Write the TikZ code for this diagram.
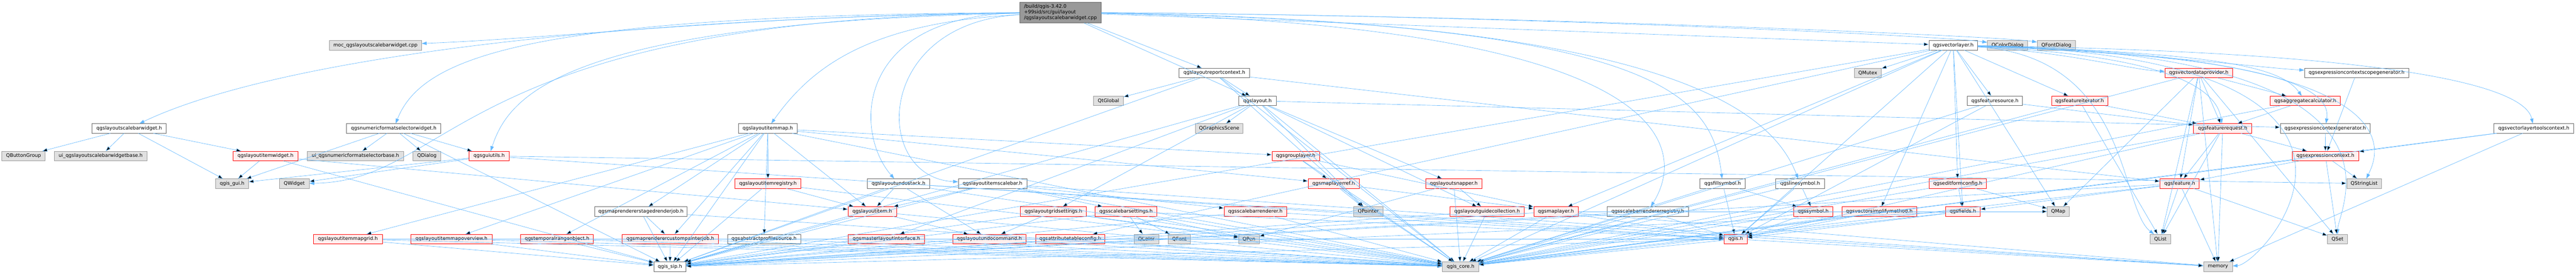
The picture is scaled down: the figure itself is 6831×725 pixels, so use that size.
\documentclass[tikz,border=0pt]{standalone}
\usepackage{fontspec}
\setmainfont{DejaVu Sans}
\usetikzlibrary{arrows.meta}

\definecolor{edgeblue}{HTML}{63B8FF}
\definecolor{grayfill}{HTML}{E0E0E0}
\definecolor{grayline}{HTML}{999999}
\definecolor{darkline}{HTML}{666666}
\definecolor{redfill}{HTML}{FFF0F0}

\tikzset{
	hdr/.style={draw, minimum height=25pt, inner sep=0pt, line width=1pt, font=\fontsize{12.9}{15}\selectfont},
	gbox/.style={hdr, draw=grayline, fill=grayfill},
	wbox/.style={hdr, draw=darkline, fill=white},
	rbox/.style={hdr, draw=red, fill=redfill},
	mainbox/.style={hdr, draw=darkline, fill=grayline, align=left},
	dep/.style={draw=edgeblue, line width=0.9pt, -{Triangle[length=13pt,width=9pt]}}
}

\begin{document}
\begin{tikzpicture}[x=1pt, y=-1pt]

	\useasboundingbox (0,0) rectangle (6831,725);

	% start file
	\node[mainbox, minimum width=216pt, minimum height=55pt] at (2812,33) (Main) {/build/qgis-3.42.0\\+99sid/src/gui/layout\\/qgslayoutscalebarwidget.cpp};

	% row 1
	\node[gbox, minimum width=245pt] at (995.5,120) (Moc) {moc\_qgslayoutscalebarwidget.cpp};
	\node[wbox, minimum width=129pt] at (5179.5,120) (VLayer) {qgsvectorlayer.h};
	\node[gbox, minimum width=107pt] at (5323.5,120) (QColorDialog) {QColorDialog};
	\node[gbox, minimum width=102pt] at (5453,120) (QFontDialog) {QFontDialog};

	% row 2
	\node[wbox, minimum width=186pt] at (3220,193) (ReportCtx) {qgslayoutreportcontext.h};
	\node[gbox, minimum width=72pt] at (4953,193) (QMutex) {QMutex};
	\node[rbox, minimum width=179pt] at (5830.5,193) (VDataProv) {qgsvectordataprovider.h};
	\node[wbox, minimum width=276pt] at (6249,193) (ExprScopeGen) {qgsexpressioncontextscopegenerator.h};

	% row 3
	\node[gbox, minimum width=79pt] at (2939.5,267) (QtGlobal) {QtGlobal};
	\node[wbox, minimum width=99pt] at (3334.5,267) (Layout) {qgslayout.h};
	\node[wbox, minimum width=146pt] at (5290,267) (FeatSource) {qgsfeaturesource.h};
	\node[rbox, minimum width=149pt] at (5514.5,267) (FeatIter) {qgsfeatureiterator.h};
	\node[rbox, minimum width=186pt] at (6113,267) (AggCalc) {qgsaggregatecalculator.h};

	% row 4
	\node[wbox, minimum width=197pt] at (342.5,340) (ScaleWidget) {qgslayoutscalebarwidget.h};
	\node[wbox, minimum width=250pt] at (1044,340) (NumFmt) {qgsnumericformatselectorwidget.h};
	\node[wbox, minimum width=156pt] at (2036,340) (ItemMap) {qgslayoutitemmap.h};
	\node[gbox, minimum width=126pt] at (3233,340) (QGraphicsScene) {QGraphicsScene};
	\node[rbox, minimum width=154pt] at (5894,340) (FeatReq) {qgsfeaturerequest.h};
	\node[wbox, minimum width=238pt] at (6166,340) (ExprGen) {qgsexpressioncontextgenerator.h};
	\node[wbox, minimum width=212pt] at (6719,340) (VLToolsCtx) {qgsvectorlayertoolscontext.h};

	% row 5
	\node[gbox, minimum width=115pt] at (62.5,413) (QButtonGroup) {QButtonGroup};
	\node[gbox, minimum width=246pt] at (267,413) (UiScale) {ui\_qgslayoutscalebarwidgetbase.h};
	\node[rbox, minimum width=172pt] at (704,413) (ItemWidget) {qgslayoutitemwidget.h};
	\node[gbox, minimum width=255pt] at (942.5,413) (UiNumFmt) {ui\_qgsnumericformatselectorbase.h};
	\node[gbox, minimum width=74pt] at (1132,413) (QDialog) {QDialog};
	\node[rbox, minimum width=106pt] at (1297,413) (GuiUtils) {qgsguiutils.h};
	\node[rbox, minimum width=126pt] at (3436,413) (GroupLayer) {qgsgrouplayer.h};
	\node[rbox, minimum width=177pt] at (6166.5,413) (ExprCtx) {qgsexpressioncontext.h};

	% row 6
	\node[gbox, minimum width=87pt] at (615.5,486) (QgisGui) {qgis\_gui.h};
	\node[gbox, minimum width=79pt] at (780.5,486) (QWidget) {QWidget};
	\node[rbox, minimum width=175pt] at (2036.5,486) (ItemRegistry) {qgslayoutitemregistry.h};
	\node[wbox, minimum width=165pt] at (2382.5,486) (UndoStack) {qgslayoutundostack.h};
	\node[wbox, minimum width=182pt] at (2632,486) (ItemScaleBar) {qgslayoutitemscalebar.h};
	\node[rbox, minimum width=135pt] at (3536.5,486) (MapLayerRef) {qgsmaplayerref.h};
	\node[rbox, minimum width=148pt] at (3855,486) (Snapper) {qgslayoutsnapper.h};
	\node[wbox, minimum width=120pt] at (4568,486) (FillSymbol) {qgsfillsymbol.h};
	\node[wbox, minimum width=129pt] at (4773.5,486) (LineSymbol) {qgslinesymbol.h};
	\node[rbox, minimum width=151pt] at (5191.5,486) (EditForm) {qgseditformconfig.h};
	\node[rbox, minimum width=104pt] at (5780,486) (Feature) {qgsfeature.h};
	\node[gbox, minimum width=92pt] at (6269,486) (QStringList) {QStringList};

	% row 7
	\node[wbox, minimum width=245pt] at (1699.5,560) (StagedJob) {qgsmaprendererstagedrenderjob.h};
	\node[rbox, minimum width=128pt] at (2313,560) (LayoutItem) {qgslayoutitem.h};
	\node[rbox, minimum width=175pt] at (2793.5,560) (GridSettings) {qgslayoutgridsettings.h};
	\node[rbox, minimum width=164pt] at (2986,560) (SBSettings) {qgsscalebarsettings.h};
	\node[rbox, minimum width=166pt] at (3329,560) (SBRenderer) {qgsscalebarrenderer.h};
	\node[gbox, minimum width=77pt] at (3628.5,560) (QPointer) {QPointer};
	\node[rbox, minimum width=197pt] at (3943.5,560) (GuideColl) {qgslayoutguidecollection.h};
	\node[rbox, minimum width=118pt] at (4126,560) (MapLayer) {qgsmaplayer.h};
	\node[wbox, minimum width=215pt] at (4369.5,560) (SBRegistry) {qgsscalebarrendererregistry.h};
	\node[rbox, minimum width=104pt] at (4808,560) (Symbol) {qgssymbol.h};
	\node[rbox, minimum width=199pt] at (4983.5,560) (VSimplify) {qgsvectorsimplifymethod.h};
	\node[rbox, minimum width=92pt] at (5205,560) (Fields) {qgsfields.h};
	\node[gbox, minimum width=58pt] at (5458,560) (QMap) {QMap};

	% row 8
	\node[rbox, minimum width=183pt] at (922.5,633) (MapGrid) {qgslayoutitemmapgrid.h};
	\node[rbox, minimum width=216pt] at (1197,633) (MapOverview) {qgslayoutitemmapoverview.h};
	\node[rbox, minimum width=192pt] at (1477,633) (TempRange) {qgstemporalrangeobject.h};
	\node[rbox, minimum width=255pt] at (1777.5,633) (PainterJob) {qgsmaprenderercustompainterjob.h};
	\node[wbox, minimum width=194pt] at (2026,633) (ProfileSrc) {qgsabstractprofilesource.h};
	\node[rbox, minimum width=203pt] at (2350.5,633) (MasterIface) {qgsmasterlayoutinterface.h};
	\node[rbox, minimum width=195pt] at (2623.5,633) (UndoCmd) {qgslayoutundocommand.h};
	\node[rbox, minimum width=184pt] at (2838,633) (AttrTable) {qgsattributetableconfig.h};
	\node[gbox, minimum width=66pt] at (3040,633) (QColor) {QColor};
	\node[gbox, minimum width=59pt] at (3127.5,633) (QFont) {QFont};
	\node[gbox, minimum width=54pt] at (3312,633) (QPen) {QPen};
	\node[rbox, minimum width=61pt] at (4602.5,633) (Qgis) {qgis.h};
	\node[gbox, minimum width=54pt] at (5729,633) (QList) {QList};
	\node[gbox, minimum width=53pt] at (6198.5,633) (QSet) {QSet};

	% row 9
	\node[wbox, minimum width=85pt] at (1776.5,706) (QgisSip) {qgis\_sip.h};
	\node[gbox, minimum width=96pt] at (3873,706) (QgisCore) {qgis\_core.h};
	\node[gbox, minimum width=77pt] at (5881.5,706) (Memory) {memory};

	% includes of the start file
	\draw[dep] (Main) .. controls (2000,40) and (1500,100) .. (Moc);
	\draw[dep] (Main) .. controls (1500,50) and (700,170) .. (ScaleWidget);
	\draw[dep] (Main) .. controls (1400,40) and (1120,150) .. (NumFmt);
	\draw[dep] (Main) .. controls (2300,60) and (2150,180) .. (ItemMap);
	\draw[dep] (Main) .. controls (1206,50) and (1206,480) .. (QWidget);
	\draw[dep] (Main) .. controls (1500,60) and (1350,250) .. (GuiUtils);
	\draw[dep] (Main) .. controls (2264,40) and (2264,350) .. (UndoStack);
	\draw[dep] (Main) .. controls (2314,60) and (2314,470) .. (ItemScaleBar);
	\draw[dep] (Main) edge (ReportCtx) edge (Layout) edge (VLayer);
	\draw[dep] (Main) .. controls (4000,40) and (5150,95) .. (QColorDialog);
	\draw[dep] (Main) .. controls (4000,40) and (5300,95) .. (QFontDialog);
	\draw[dep] (Main) .. controls (4400,60) and (4540,250) .. (FillSymbol);
	\draw[dep] (Main) .. controls (4450,55) and (4700,300) .. (LineSymbol);
	\draw[dep] (Main) .. controls (4469,70) and (4469,400) .. (SBRegistry);

	% headers
	\draw[dep] (ScaleWidget) edge (QButtonGroup) edge (UiScale) edge (ItemWidget) edge (QgisGui);
	\draw[dep] (NumFmt) edge (UiNumFmt) edge (QDialog) edge (QgisGui) edge (GuiUtils) edge (QgisSip);
	\draw[dep] (ItemWidget) edge (QgisGui) edge (LayoutItem) edge (QgisSip);
	\draw[dep] (GuiUtils) edge (QgisGui) edge (QWidget) edge (QStringList) edge (Qgis);
	\draw[dep] (ItemMap) edge (LayoutItem) edge (ItemRegistry) edge (StagedJob) edge (PainterJob) edge (TempRange) edge (ProfileSrc) edge (MapOverview) edge (MapGrid) edge (MapLayerRef) edge (GroupLayer) edge (QgisSip) edge (QgisCore);
	\draw[dep] (ItemRegistry) edge (LayoutItem) edge (QgisSip) edge (QgisCore);
	\draw[dep] (StagedJob) edge (PainterJob) edge (QgisSip) edge (QgisCore);
	\draw[dep] (PainterJob) edge (QgisSip) edge (QgisCore);
	\draw[dep] (TempRange) edge (QgisSip) edge (QgisCore) edge (Qgis);
	\draw[dep] (ProfileSrc) edge (QgisSip) edge (QgisCore);
	\draw[dep] (MapOverview) edge (QgisSip) edge (QgisCore);
	\draw[dep] (MapGrid) edge (QgisSip) edge (QgisCore) edge (Qgis);
	\draw[dep] (LayoutItem) edge (UndoCmd) edge (QgisSip) edge (QgisCore);
	\draw[dep] (MasterIface) edge (QgisSip) edge (QgisCore);
	\draw[dep] (UndoCmd) edge (QgisSip) edge (QgisCore);
	\draw[dep] (AttrTable) edge (QgisSip) edge (QgisCore);
	\draw[dep] (UndoStack) edge (LayoutItem) edge (UndoCmd) edge (QgisSip) edge (QgisCore) edge (Memory);
	\draw[dep] (ItemScaleBar) edge (LayoutItem) edge (SBSettings) edge (SBRenderer) edge (QgisSip) edge (QgisCore) edge (Memory);
	\draw[dep] (GridSettings) edge (UndoCmd) edge (QPen) edge (QgisSip) edge (QgisCore);
	\draw[dep] (SBSettings) edge (QColor) edge (QFont) edge (QPen) edge (QgisSip) edge (QgisCore) edge (Qgis);
	\draw[dep] (SBRenderer) edge (QgisSip) edge (QgisCore) edge (Qgis);
	\draw[dep] (ReportCtx) edge (QtGlobal) edge (Layout) edge (QPointer) edge (Feature) edge (QgisSip) edge (QgisCore);
	\draw[dep] (Layout) edge (QGraphicsScene) edge (GridSettings) edge (Snapper) edge (GuideColl) edge (QPointer) edge (MasterIface) edge (ExprGen) edge (QgisSip) edge (QgisCore);
	\draw[dep] (GroupLayer) edge (MapLayerRef) edge (MapLayer) edge (QgisCore);
	\draw[dep] (MapLayerRef) edge (QPointer) edge (MapLayer) edge (QgisCore);
	\draw[dep] (Snapper) edge (GuideColl) edge (QPen) edge (QgisCore);
	\draw[dep] (GuideColl) edge (QgisSip) edge (QgisCore);
	\draw[dep] (MapLayer) edge (QgisSip) edge (QgisCore) edge (Qgis) edge (QMap) edge (Memory);
	\draw[dep] (SBRegistry) edge (QgisSip) edge (QgisCore) edge (Qgis);
	\draw[dep] (FillSymbol) edge (Symbol) edge (Qgis) edge (QgisCore);
	\draw[dep] (LineSymbol) edge (Symbol) edge (Qgis) edge (QgisCore);
	\draw[dep] (Symbol) edge (Qgis) edge (QgisCore);
	\draw[dep] (VSimplify) edge (Qgis) edge (QgisCore);
	\draw[dep] (Fields) edge (Qgis) edge (QgisSip) edge (QgisCore);
	\draw[dep] (EditForm) edge (QMap) edge (Fields) edge (QgisCore);

	% vector layer
	\draw[dep] (VLayer) edge (QMutex) edge (FeatSource) edge (FeatIter) edge (EditForm) edge (Fields) edge (QMap) edge (VSimplify) edge (Qgis) edge (QgisSip) edge (QgisCore) edge (MapLayer) edge (AttrTable);
	\draw[dep] (VLayer) .. controls (5500,140) and (5650,185) .. (VDataProv);
	\draw[dep] (VLayer) .. controls (5700,140) and (6000,180) .. (ExprScopeGen);
	\draw[dep] (VLayer) .. controls (5900,140) and (6050,180) .. (AggCalc);
	\draw[dep] (VLayer) .. controls (5800,150) and (5880,250) .. (FeatReq);
	\draw[dep] (VLayer) .. controls (6100,150) and (6180,250) .. (ExprGen);
	\draw[dep] (VLayer) .. controls (6500,140) and (6700,250) .. (VLToolsCtx);
	\draw[dep] (VLayer) .. controls (6450,140) and (6200,550) .. (QSet);
	\draw[dep] (VLayer) .. controls (5650,150) and (5620,550) .. (QList);
	\draw[dep] (VLayer) .. controls (6450,145) and (6300,420) .. (QStringList);
	\draw[dep] (VLayer) .. controls (6500,150) and (6000,700) .. (Memory);

	\draw[dep] (FeatSource) edge (FeatReq) edge (Qgis) edge (QgisCore);
	\draw[dep] (FeatIter) edge (FeatReq) edge (QList) edge (QgisCore);
	\draw[dep] (VDataProv) edge (FeatReq) edge (Feature) edge (AggCalc) edge (QList) edge (QSet) edge (QMap) edge (Memory) edge (QgisCore);
	\draw[dep] (AggCalc) edge (FeatReq) edge (QgisCore);
	\draw[dep] (FeatReq) edge (Feature) edge (ExprCtx) edge (QList) edge (Memory) edge (Qgis) edge (QgisCore);
	\draw[dep] (ExprScopeGen) edge (ExprCtx);
	\draw[dep] (ExprGen) edge (ExprCtx);
	\draw[dep] (VLToolsCtx) edge (ExprCtx) edge (Memory) edge (QgisCore);
	\draw[dep] (ExprCtx) edge (Feature) edge (QStringList) edge (QSet) edge (QgisCore);
	\draw[dep] (Feature) edge (QList) edge (QSet) edge (Memory) edge (Fields) edge (QgisSip) edge (QgisCore);
	\draw[dep] (Qgis) edge (QgisSip) edge (QgisCore) edge (Memory);

\end{tikzpicture}
\end{document}
